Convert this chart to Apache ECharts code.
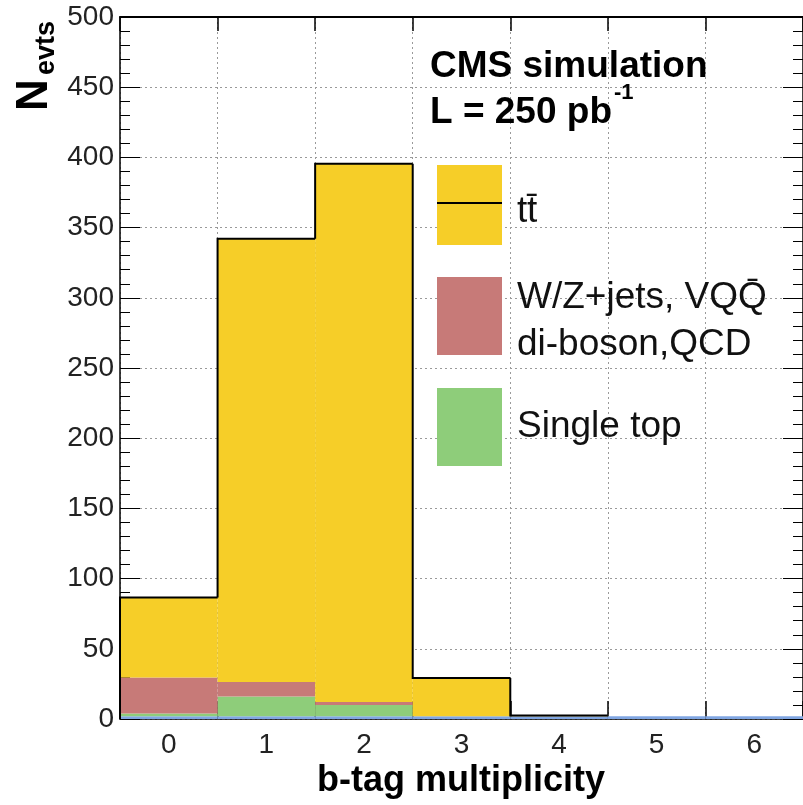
<!DOCTYPE html>
<html>
<head>
<meta charset="utf-8">
<script src="https://cdn.jsdelivr.net/npm/echarts@6/dist/echarts.min.js"></script>
<style>
html,body{margin:0;padding:0;background:#fff;}
#c{width:803px;height:805px;}
</style>
</head>
<body>
<div id="c"></div>
<script>
// ---- data ----
var categories = ['0','1','2','3','4','5','6'];
var otherBlue   = [2, 2, 2, 2, 2, 2, 2];
var singleTop   = [2, 14, 8, 0, 0, 0, 0];
var wzJets      = [25.5, 10.3, 2.1, 0, 0, 0, 0];
var ttbar       = [57, 315.7, 383.3, 27.2, 0.5, 0, 0];
var yTicks = {min: 0, max: 500, interval: 50};

var FONT = 'Liberation Sans';
var colYellow = '#f6ce28', colRed = '#c77a78', colGreen = '#8ecd7a', colBlue = '#80a6e2';

// totals for outline
var totals = categories.map(function(c, i){
  return otherBlue[i] + singleTop[i] + wzJets[i] + ttbar[i];
});
var outlineData = categories.map(function(c, i){
  return [i, totals[i], i > 0 ? totals[i-1] : 0, ttbar[i]];
});

var chart = echarts.init(document.getElementById('c'), null, {renderer: 'canvas'});

function barSeries(name, data, color){
  return {
    name: name, type: 'bar', stack: 'all', data: data,
    barCategoryGap: '0%', barGap: '0%',
    itemStyle: {color: color},
    xAxisIndex: 0, yAxisIndex: 0,
    silent: true, animation: false
  };
}

var gridLineStyle = {color: '#9a9a9a', type: [2, 3], width: 1};

var option = {
  animation: false,
  backgroundColor: '#ffffff',
  grid: {left: 120, right: -10, top: 17, bottom: 86, containLabel: false},
  xAxis: [{
    type: 'category', data: categories, position: 'bottom', boundaryGap: true,
    axisLine: {show: true, onZero: false, lineStyle: {color: '#000', width: 1.5}},
    axisTick: {show: true, inside: true, length: 18, interval: 0, lineStyle: {color: '#000', width: 1.5}},
    axisLabel: {show: true, interval: 0, color: '#222', fontSize: 28, fontFamily: FONT, margin: 12},
    splitLine: {show: true, interval: 0, lineStyle: gridLineStyle}
  }, {
    type: 'category', data: categories, position: 'top', boundaryGap: true,
    axisLine: {show: true, onZero: false, lineStyle: {color: '#000', width: 2}},
    axisTick: {show: true, inside: true, length: 14, interval: 0, lineStyle: {color: '#000', width: 1.5}},
    axisLabel: {show: false},
    splitLine: {show: false}
  }],
  yAxis: [{
    type: 'value', position: 'left', min: yTicks.min, max: yTicks.max, interval: yTicks.interval,
    axisLine: {show: true, onZero: false, lineStyle: {color: '#000', width: 1.5}},
    axisTick: {show: true, inside: true, length: 20, lineStyle: {color: '#000', width: 1}},
    minorTick: {show: true, splitNumber: 5, length: 10, lineStyle: {color: '#000', width: 1}},
    axisLabel: {show: true, color: '#222', fontSize: 28, fontFamily: FONT, margin: 6},
    splitLine: {show: true, lineStyle: gridLineStyle}
  }, {
    type: 'value', position: 'right', min: yTicks.min, max: yTicks.max, interval: yTicks.interval,
    axisLine: {show: true, onZero: false, lineStyle: {color: '#000', width: 1.5}},
    axisTick: {show: true, inside: true, length: 20, lineStyle: {color: '#000', width: 1}},
    minorTick: {show: true, splitNumber: 5, length: 10, lineStyle: {color: '#000', width: 1}},
    axisLabel: {show: false},
    splitLine: {show: false}
  }],
  series: [
    barSeries('other', otherBlue, colBlue),
    barSeries('Single top', singleTop, colGreen),
    barSeries('W/Z+jets', wzJets, colRed),
    barSeries('ttbar', ttbar, colYellow),
    {
      type: 'custom', name: 'outline', xAxisIndex: 0, yAxisIndex: 0, z: 5,
      silent: true, animation: false,
      data: outlineData,
      encode: {x: 0, y: 1},
      renderItem: function(params, api){
        var i = api.value(0);
        var tot = api.value(1), prev = api.value(2), tt = api.value(3);
        if (tt <= 0) return null;
        var bw = api.size([1, 0])[0];
        var c = api.coord([i, tot]);
        var p = api.coord([i, prev]);
        var xl = c[0] - bw/2, xr = c[0] + bw/2;
        return {
          type: 'polyline',
          shape: {points: [[xl, p[1]], [xl, c[1]], [xr, c[1]]]},
          style: {stroke: '#000', lineWidth: 2, fill: null}
        };
      }
    }
  ],
  graphic: [
    // y title
    {type: 'text', x: 35, y: 95, rotation: Math.PI/2, z: 10,
     style: {text: 'N', font: 'bold 44px "' + FONT + '"', fill: '#000', align: 'center', verticalAlign: 'middle'}},
    {type: 'text', x: 47, y: 48, rotation: Math.PI/2, z: 10,
     style: {text: 'evts', font: 'bold 27px "' + FONT + '"', fill: '#000', align: 'center', verticalAlign: 'middle'}},
    // x title
    {type: 'text', x: 461, y: 781, z: 10,
     style: {text: 'b-tag multiplicity', font: 'bold 36px "' + FONT + '"', fill: '#000', align: 'center', verticalAlign: 'middle'}},
    // CMS text
    {type: 'text', x: 430, y: 67, z: 10,
     style: {text: 'CMS simulation', font: 'bold 37px "' + FONT + '"', fill: '#000', align: 'left', verticalAlign: 'middle'}},
    {type: 'text', x: 430, y: 113, z: 10,
     style: {text: 'L = 250 pb', font: 'bold 37px "' + FONT + '"', fill: '#000', align: 'left', verticalAlign: 'middle'}},
    {type: 'text', x: 614, y: 93, z: 10,
     style: {text: '-1', font: 'bold 22px "' + FONT + '"', fill: '#000', align: 'left', verticalAlign: 'middle'}},
    // legend boxes
    {type: 'rect', shape: {x: 437, y: 165, width: 65, height: 80}, style: {fill: colYellow}, z: 10},
    {type: 'line', shape: {x1: 437, y1: 203, x2: 502, y2: 203}, style: {stroke: '#000', lineWidth: 2}, z: 11},
    {type: 'rect', shape: {x: 437, y: 277, width: 65, height: 78}, style: {fill: colRed}, z: 10},
    {type: 'rect', shape: {x: 437, y: 388, width: 65, height: 78}, style: {fill: colGreen}, z: 10},
    {type: 'text', x: 517, y: 212, z: 10,
     style: {text: 't', font: '37px "' + FONT + '"', fill: '#111', align: 'left', verticalAlign: 'middle'}},
    {type: 'text', x: 527, y: 212, z: 10,
     style: {text: 't\u0304', font: '37px "' + FONT + '"', fill: '#111', align: 'left', verticalAlign: 'middle'}},
    {type: 'text', x: 517, y: 298, z: 10,
     style: {text: 'W/Z+jets, VQQ\u0304', font: '37px "' + FONT + '"', fill: '#111', align: 'left', verticalAlign: 'middle'}},
    {type: 'text', x: 517, y: 345, z: 10,
     style: {text: 'di-boson,QCD', font: '37px "' + FONT + '"', fill: '#111', align: 'left', verticalAlign: 'middle'}},
    {type: 'text', x: 517, y: 427, z: 10,
     style: {text: 'Single top', font: '37px "' + FONT + '"', fill: '#111', align: 'left', verticalAlign: 'middle'}}
  ]
};
chart.setOption(option);
</script>
</body>
</html>
